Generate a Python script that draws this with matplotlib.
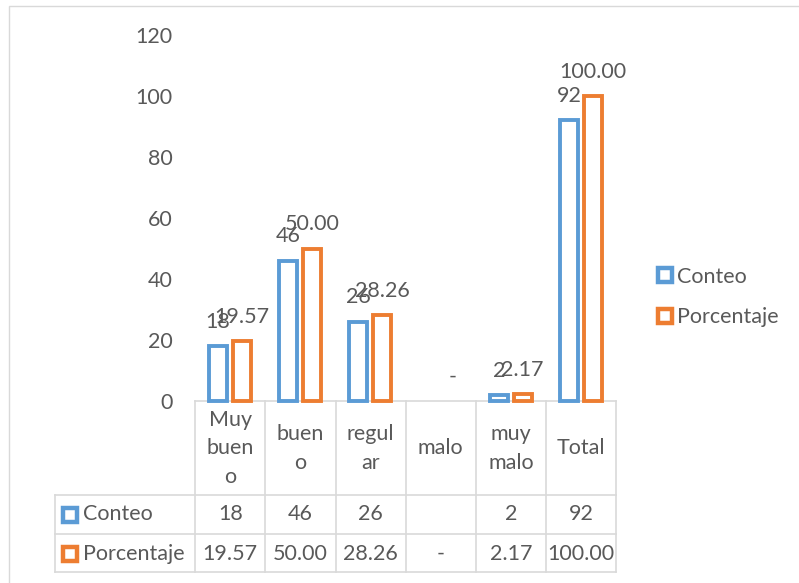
import matplotlib
matplotlib.use("Agg")
import matplotlib.pyplot as plt
from matplotlib.lines import Line2D
from matplotlib.patches import Rectangle

# --- data ---
categories = ["Muy\nbuen\no", "buen\no", "regul\nar", "malo", "muy\nmalo", "Total"]
series_names = ["Conteo", "Porcentaje"]
conteo = [18, 46, 26, None, 2, 92]
porcentaje = [19.57, 50.00, 28.26, 0.0, 2.17, 100.00]
yticks = [0, 20, 40, 60, 80, 100, 120]

BLUE = "#5B9BD5"
ORANGE = "#ED7D31"
TEXT = "#595959"
GRID = "#D9D9D9"
FS = 15.5

plt.rcParams["font.family"] = ["Lato", "DejaVu Sans"]

W, H = 799, 583
fig = plt.figure(figsize=(W / 100, H / 100), dpi=100)


def fx(px):
    return px / W


def fy(py):
    return (H - py) / H


# outer chart frame
fig.add_artist(Rectangle((fx(9), -0.05), 1.0, fy(6) + 0.05, transform=fig.transFigure,
                         fill=False, edgecolor=GRID, lw=1.0))


def fmt_count(v):
    return "" if v is None else f"{v:d}"


def fmt_pct(v):
    return "-" if v == 0 else f"{v:.2f}"


# --- data table below the plot ---
tax = fig.add_axes([fx(55), fy(572), fx(616) - fx(55), fy(401) - fy(572)])
tax.set_xlim(-2.5, len(categories) - 0.5)
tax.set_ylim(171, 0)
tax.axis("off")
n = len(categories)
lk = dict(color=GRID, lw=1.2, clip_on=False, solid_capstyle="projecting")
# vertical separators
for i in range(n + 1):
    tax.plot([i - 0.5, i - 0.5], [0, 171], **lk)
tax.plot([-2.5, -2.5], [94, 171], **lk)
# horizontal rules
tax.plot([-0.5, n - 0.5], [0, 0], **lk)
for yy in (94, 133, 171):
    tax.plot([-2.5, n - 0.5], [yy, yy], **lk)

for i, cat in enumerate(categories):
    tax.text(i, 47.5, cat, ha="center", va="center", fontsize=FS, color=TEXT, linespacing=1.55)
    tax.text(i, 113.5, fmt_count(conteo[i]), ha="center", va="center", fontsize=FS, color=TEXT)
    tax.text(i, 152.5, fmt_pct(porcentaje[i]), ha="center", va="center", fontsize=FS, color=TEXT)

for name, col, yy in ((series_names[0], BLUE, 113.5), (series_names[1], ORANGE, 152.5)):
    tax.plot([-2.286], [yy], ls="none", marker="s", ms=9.7, mew=3.2, mfc="white", mec=col,
             clip_on=False)
    tax.text(-2.101, yy, name, ha="left", va="center", fontsize=FS, color=TEXT)

# --- bar chart ---
ax = fig.add_axes([fx(195), fy(401), fx(616) - fx(195), fy(35) - fy(401)])
ax.set_facecolor("none")
ax.set_xlim(-0.5, n - 0.5)
ax.set_ylim(0, 120)

width = 0.257
offsets = (-0.171, 0.171)
series = (conteo, porcentaje)
colors = (BLUE, ORANGE)
formatters = (fmt_count, fmt_pct)
for vals, off, col, f in zip(series, offsets, colors, formatters):
    xs = [i + off for i in range(n)]
    hs = [0 if v is None else v for v in vals]
    bars = ax.bar(xs, hs, width=width, facecolor="white", edgecolor=col, linewidth=2.8,
                  clip_on=False, zorder=3)
    for b, v in zip(bars, vals):
        if not v:
            # empty or zero value: no visible column
            b.set_visible(False)
        if v is None:
            continue
        ax.annotate(f(v), (b.get_x() + b.get_width() / 2, v), xytext=(0, 17.5),
                    textcoords="offset points", ha="center", va="center",
                    fontsize=FS, color=TEXT, zorder=4, annotation_clip=False)

ax.set_yticks(yticks)
ax.set_yticklabels([str(t) for t in yticks])
ax.tick_params(axis="y", length=0, pad=16, labelsize=FS, labelcolor=TEXT)
ax.set_xticks([])
for s in ax.spines.values():
    s.set_visible(False)

handles = [Line2D([], [], ls="none", marker="s", ms=9.7, mew=3.2, mfc="white", mec=c)
           for c in colors]
fig.legend(handles, series_names, loc="center left", bbox_to_anchor=(fx(656), fy(297)),
           frameon=False, fontsize=FS, labelcolor=TEXT, handlelength=0.86,
           handletextpad=0.12, labelspacing=0.95, borderpad=0, borderaxespad=0)

fig.savefig("out.png", dpi=100, facecolor="white")
